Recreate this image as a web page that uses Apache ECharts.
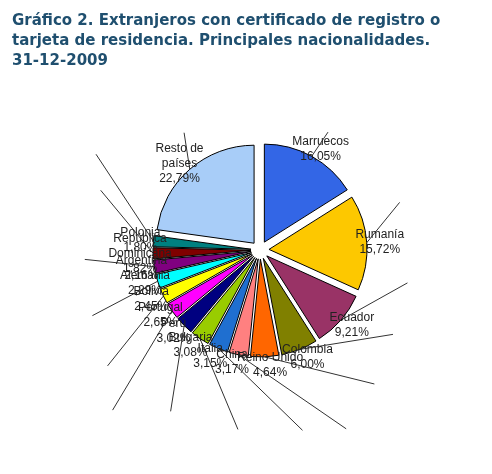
<!DOCTYPE html>
<html>
<head>
<meta charset="utf-8">
<script src="https://cdn.jsdelivr.net/npm/echarts@6/dist/echarts.min.js"></script>
<style>
html,body{margin:0;padding:0;background:#fff}
#main{width:492px;height:474px}
</style>
</head>
<body>
<div id="main"></div>
<script>
//países
let paises = ['Marruecos','Rumanía','Ecuador','Colombia','Reino Unido','China','Italia','Bulgaria','Perú','Portugal','Bolivia','Alemania','Argentina','República\nDominicana','Polonia','Resto de\npaíses']
//porcentajes
let valores = [16.05,15.72,9.21,6.00,4.64,3.17,3.15,3.08,3.02,2.65,2.45,2.29,2.16,1.82,1.80,22.79]
//colores
let colores = ['#3366e6','#fdc800','#993366','#808000','#ff6600','#ff8080','#1f6fd0','#99cc00','#000080','#ff00ff','#ffff00','#00ffff','#800080','#800000','#008080','#a8cdf8']
//posición de etiquetas
let etiquetas = [[352,140],[415,203],[423,277],[415,326],[407,375],[365,420],[306,437],[243,437],[177,420],[120,420],[98,362],[76,313],[68,258],[78,190],[105,140],[190,117]]

let myChart = echarts.init(document.getElementById('main'))
let option = {
    title:{
        text:'Gráfico 2. Extranjeros con certificado de registro o\ntarjeta de residencia. Principales nacionalidades.\n31-12-2009',
        left:7, top:6,
        textStyle:{fontFamily:'DejaVu Sans',fontWeight:'bold',fontSize:15,color:'#1f4f6f',lineHeight:20}
    },
    series:[{
        type:'pie',
        center:[260,250],
        radius:[0,98],
        startAngle:90,
        clockwise:true,
        selectedMode:'multiple',
        selectedOffset:9,
        avoidLabelOverlap:false,
        animation:false,
        itemStyle:{borderColor:'#000',borderWidth:1},
        label:{
            formatter:p => p.name + '\n' + p.value.toFixed(2).replace('.',',') + '%',
            fontFamily:'Liberation Sans',fontSize:12,color:'#222',lineHeight:15,align:'center'
        },
        labelLine:{show:true,length:8,length2:0,lineStyle:{color:'#333',width:1}},
        labelLayout:p => ({x:etiquetas[p.dataIndex][0],y:etiquetas[p.dataIndex][1],align:'center',verticalAlign:'middle',moveOverlap:null}),
        data:valores.map((v,i) => ({name:paises[i],value:v,selected:true,itemStyle:{color:colores[i]}}))
    }]
}
myChart.setOption(option)
</script>
</body>
</html>
